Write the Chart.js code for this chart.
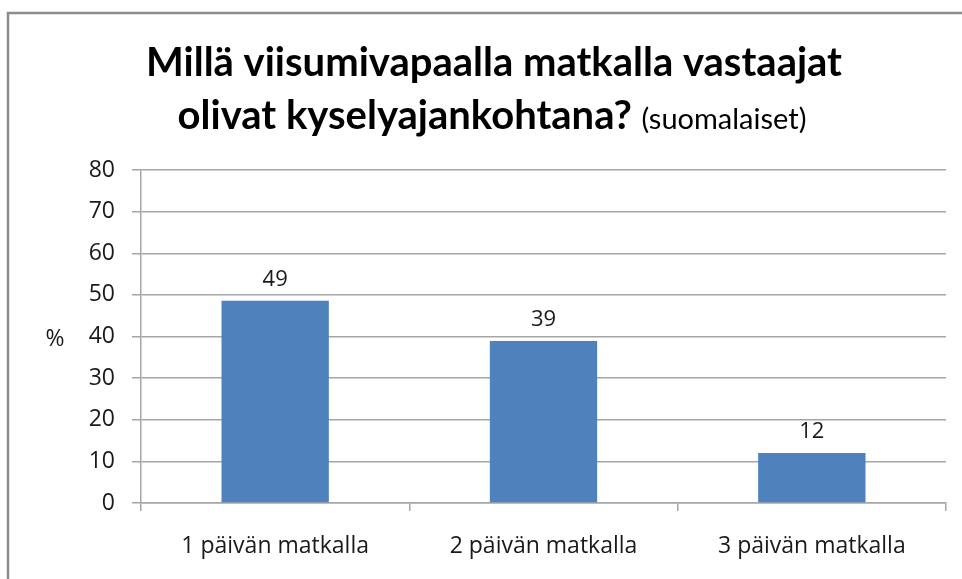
<!DOCTYPE html>
<html>
<head>
<meta charset="utf-8">
<script src="https://cdn.jsdelivr.net/npm/chart.js@4/dist/chart.umd.min.js"></script>
<style>
  html, body { margin: 0; padding: 0; background: #fff; }
  #chart { display: block; }
</style>
</head>
<body>
<canvas id="chart" width="962" height="579"></canvas>
<script>
// data
const categories = ['1 päivän matkalla', '2 päivän matkalla', '3 päivän matkalla'];
const shares = [48.6, 38.9, 12.0];
const yTicks = [0, 10, 20, 30, 40, 50, 60, 70, 80];

const titleLine1 = 'Millä viisumivapaalla matkalla vastaajat';
const titleLine2 = 'olivat kyselyajankohtana? ';
const titleNote = '(suomalaiset)';
const yAxisLabel = '%';

const TITLE_FONT = 'Lato, "Open Sans", sans-serif';
const FONT = '"Open Sans", Lato, sans-serif';
const GRID = '#a6a6a6';

// frame, title, % label and value labels
const decorations = {
    id: 'decorations',
    beforeDraw(chart) {
        const ctx = chart.ctx;
        ctx.save();
        ctx.fillStyle = '#fff';
        ctx.fillRect(0, 0, chart.width, chart.height);
        ctx.strokeStyle = '#8c8c8c';
        ctx.lineWidth = 2.5;
        ctx.beginPath();
        ctx.moveTo(8, chart.height);
        ctx.lineTo(8, 13);
        ctx.lineTo(chart.width, 13);
        ctx.stroke();
        ctx.restore();
    },
    afterDraw(chart) {
        const ctx = chart.ctx;
        ctx.save();
        ctx.fillStyle = '#000';
        ctx.textBaseline = 'alphabetic';

        // title line 1
        ctx.font = 'bold 40px ' + TITLE_FONT;
        ctx.textAlign = 'center';
        ctx.fillText(titleLine1, 494, 76);

        // title line 2: bold part + smaller note
        const boldFont = 'bold 40px ' + TITLE_FONT;
        const noteFont = '29px ' + TITLE_FONT;
        ctx.font = boldFont;
        const w1 = ctx.measureText(titleLine2).width;
        ctx.font = noteFont;
        const w2 = ctx.measureText(titleNote).width;
        let x = 492 - (w1 + w2) / 2;
        ctx.textAlign = 'left';
        ctx.font = boldFont;
        ctx.fillText(titleLine2, x, 129);
        ctx.font = noteFont;
        ctx.fillText(titleNote, x + w1, 129);

        // y axis label
        ctx.font = '23px ' + FONT;
        ctx.textAlign = 'center';
        ctx.textBaseline = 'middle';
        ctx.fillStyle = '#1a1a1a';
        ctx.fillText(yAxisLabel, 55, 339);

        // value labels above bars
        const meta = chart.getDatasetMeta(0);
        ctx.textBaseline = 'bottom';
        ctx.font = '22px ' + FONT;
        meta.data.forEach((bar, i) => {
            ctx.fillText(String(Math.round(shares[i])), bar.x, bar.y - 10);
        });
        ctx.restore();
    }
};

const ctx = document.getElementById('chart').getContext('2d');
const shareChart = new Chart(ctx, {
    type: 'bar',
    data: {
        labels: categories,
        datasets: [{
            data: shares,
            backgroundColor: '#4f81bd',
            borderWidth: 0,
            barPercentage: 0.4,
            categoryPercentage: 1.0
        }]
    },
    options: {
        responsive: false,
        animation: false,
        layout: { padding: { top: 170, left: 0, right: 16, bottom: 0 } },
        plugins: {
            legend: { display: false },
            title: { display: false },
            tooltip: { enabled: false }
        },
        scales: {
            x: {
                grid: {
                    offset: true,
                    drawOnChartArea: false,
                    drawTicks: true,
                    tickLength: 8,
                    color: GRID,
                    lineWidth: 1.5
                },
                border: { color: GRID, width: 1.5 },
                ticks: {
                    color: '#1a1a1a',
                    font: { family: FONT, size: 23 },
                    padding: 22
                },
                afterFit(scale) { scale.height = 579 - 503; }
            },
            y: {
                min: 0,
                max: 80,
                afterBuildTicks(scale) {
                    scale.ticks = yTicks.map(v => ({ value: v }));
                },
                grid: {
                    color: GRID,
                    lineWidth: 1.5,
                    tickLength: 9
                },
                border: { color: GRID, width: 1.5 },
                ticks: {
                    color: '#1a1a1a',
                    font: { family: FONT, size: 23 },
                    padding: 17
                },
                afterFit(scale) { scale.width = 141; }
            }
        }
    },
    plugins: [decorations]
});
</script>
</body>
</html>
